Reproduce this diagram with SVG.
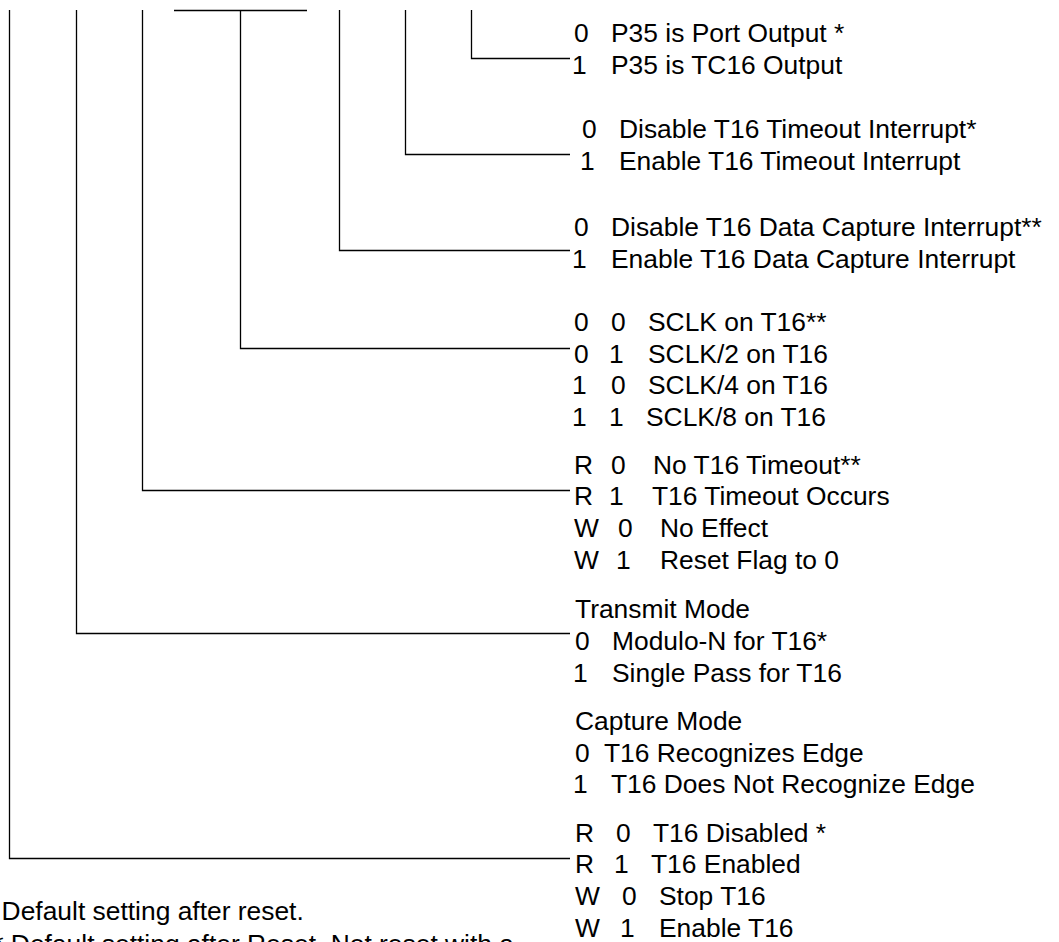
<svg xmlns="http://www.w3.org/2000/svg" width="1059" height="942" viewBox="0 0 1059 942">
<style>
text{font-family:"Liberation Sans",Arial,sans-serif;font-size:26.4px;fill:#000}
.c{fill:none;stroke:#000;stroke-width:1.3}
</style>
<rect width="1059" height="942" fill="#fff"/>
<g id="connectors">
<path class="c" d="M174,10.5H307"/>
<path class="c" d="M471.5,10V58.5H570"/>
<path class="c" d="M405.5,10V154.5H570"/>
<path class="c" d="M339.5,10V250.5H570"/>
<path class="c" d="M240.5,10V348.5H570"/>
<path class="c" d="M142.5,10V490.5H570"/>
<path class="c" d="M76.5,10V633.5H570"/>
<path class="c" d="M9.5,10V858.5H570"/>
</g>
<g id="node-p35">
<text y="42"><tspan x="574">0</tspan><tspan x="611">P35 is Port Output *</tspan></text>
<text y="74"><tspan x="572">1</tspan><tspan x="611">P35 is TC16 Output</tspan></text>
</g>
<g id="node-timeout-int">
<text y="138"><tspan x="582">0</tspan><tspan x="619">Disable T16 Timeout Interrupt*</tspan></text>
<text y="170"><tspan x="580">1</tspan><tspan x="619">Enable T16 Timeout Interrupt</tspan></text>
</g>
<g id="node-capture-int">
<text y="236"><tspan x="574">0</tspan><tspan x="611">Disable T16 Data Capture Interrupt**</tspan></text>
<text y="268"><tspan x="572">1</tspan><tspan x="611">Enable T16 Data Capture Interrupt</tspan></text>
</g>
<g id="node-sclk">
<text y="331"><tspan x="574">0</tspan><tspan x="611">0</tspan><tspan x="648">SCLK on T16**</tspan></text>
<text y="363"><tspan x="574">0</tspan><tspan x="609">1</tspan><tspan x="648">SCLK/2 on T16</tspan></text>
<text y="394"><tspan x="572">1</tspan><tspan x="611">0</tspan><tspan x="648">SCLK/4 on T16</tspan></text>
<text y="426"><tspan x="572">1</tspan><tspan x="609">1</tspan><tspan x="646">SCLK/8 on T16</tspan></text>
</g>
<g id="node-timeout-flag">
<text y="474"><tspan x="574">R</tspan><tspan x="611">0</tspan><tspan x="653">No T16 Timeout**</tspan></text>
<text y="505"><tspan x="574">R</tspan><tspan x="609">1</tspan><tspan x="652">T16 Timeout Occurs</tspan></text>
<text y="537"><tspan x="574">W</tspan><tspan x="618">0</tspan><tspan x="660">No Effect</tspan></text>
<text y="569"><tspan x="574">W</tspan><tspan x="616">1</tspan><tspan x="660">Reset Flag to 0</tspan></text>
</g>
<g id="node-mode">
<text x="575" y="618">Transmit Mode</text>
<text y="650"><tspan x="575">0</tspan><tspan x="612">Modulo-N for T16*</tspan></text>
<text y="682"><tspan x="573">1</tspan><tspan x="612">Single Pass for T16</tspan></text>
<text x="575" y="730">Capture Mode</text>
<text y="762"><tspan x="575">0</tspan><tspan x="604">T16 Recognizes Edge</tspan></text>
<text y="793"><tspan x="573">1</tspan><tspan x="611">T16 Does Not Recognize Edge</tspan></text>
</g>
<g id="node-enable">
<text y="842"><tspan x="575">R</tspan><tspan x="616">0</tspan><tspan x="653">T16 Disabled *</tspan></text>
<text y="873"><tspan x="575">R</tspan><tspan x="614">1</tspan><tspan x="651">T16 Enabled</tspan></text>
<text y="905"><tspan x="575">W</tspan><tspan x="622">0</tspan><tspan x="659">Stop T16</tspan></text>
<text y="937"><tspan x="575">W</tspan><tspan x="620">1</tspan><tspan x="659">Enable T16</tspan></text>
</g>
<g id="notes">
<text x="-16" y="920">* Default setting after reset.</text>
<text x="-17" y="953">** Default setting after Reset. Not reset with a</text>
</g>
</svg>
